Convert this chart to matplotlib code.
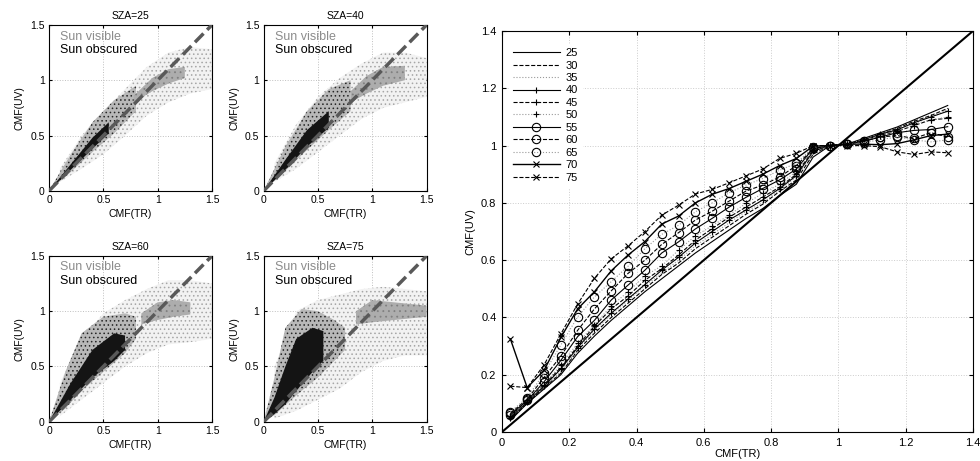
import matplotlib
matplotlib.use("Agg")
import matplotlib.pyplot as plt
import numpy as np

plt.rcParams['font.family'] = ['Liberation Sans', 'DejaVu Sans']
plt.rcParams['hatch.linewidth'] = 0.6

# ---- left: scatter clouds, summarised as envelopes ----
sza_panels = [25, 40, 60, 75]

# sun visible (gray), sparse outer cloud
vis_x = [[0.1, 0.3, 0.5, 0.7, 0.9, 1.1, 1.3, 1.5]] * 4
vis_lo = [[0.08, 0.20, 0.33, 0.50, 0.68, 0.80, 0.88, 0.92],
          [0.08, 0.20, 0.35, 0.50, 0.65, 0.75, 0.80, 0.85],
          [0.05, 0.20, 0.35, 0.50, 0.62, 0.70, 0.72, 0.75],
          [0.03, 0.10, 0.20, 0.30, 0.45, 0.55, 0.60, 0.60]]
vis_hi = [[0.20, 0.50, 0.72, 0.92, 1.12, 1.25, 1.30, 1.28],
          [0.25, 0.60, 0.85, 1.02, 1.15, 1.25, 1.25, 1.20],
          [0.35, 0.75, 0.98, 1.10, 1.20, 1.28, 1.28, 1.25],
          [0.50, 1.00, 1.10, 1.15, 1.20, 1.22, 1.20, 1.18]]

# sun visible, dense core near (1, 1)
vcore_x = [[0.78, 0.95, 1.10, 1.25],
           [0.80, 0.95, 1.10, 1.30],
           [0.85, 1.00, 1.15, 1.30],
           [0.85, 1.00, 1.20, 1.50]]
vcore_lo = [[0.80, 0.90, 0.97, 1.02],
            [0.80, 0.88, 0.95, 1.00],
            [0.88, 0.92, 0.95, 0.97],
            [0.88, 0.90, 0.92, 0.95]]
vcore_hi = [[0.86, 1.02, 1.10, 1.12],
            [0.90, 1.04, 1.12, 1.13],
            [0.98, 1.08, 1.10, 1.08],
            [1.00, 1.10, 1.08, 1.05]]

# sun obscured (black), sparse cloud
obs_x = [[0, 0.2, 0.4, 0.6, 0.8],
         [0, 0.2, 0.4, 0.6, 0.8],
         [0, 0.15, 0.3, 0.5, 0.7, 0.8],
         [0, 0.1, 0.2, 0.35, 0.5, 0.65, 0.75]]
obs_lo = [[0, 0.17, 0.35, 0.52, 0.72],
          [0, 0.18, 0.37, 0.55, 0.72],
          [0, 0.12, 0.28, 0.45, 0.62, 0.75],
          [0, 0.06, 0.15, 0.28, 0.40, 0.55, 0.65]]
obs_hi = [[0, 0.33, 0.62, 0.82, 0.95],
          [0, 0.40, 0.72, 0.92, 1.00],
          [0, 0.45, 0.80, 0.95, 0.98, 0.95],
          [0, 0.40, 0.85, 1.02, 1.00, 0.92, 0.85]]

# sun obscured, dense core
ocore_x = [[0, 0.2, 0.4, 0.55],
           [0, 0.2, 0.4, 0.6],
           [0, 0.2, 0.4, 0.6, 0.7],
           [0, 0.1, 0.2, 0.3, 0.45, 0.55]]
ocore_lo = [[0, 0.19, 0.38, 0.52],
            [0, 0.19, 0.40, 0.57],
            [0, 0.20, 0.40, 0.55, 0.65],
            [0, 0.07, 0.16, 0.28, 0.45, 0.55]]
ocore_hi = [[0, 0.24, 0.48, 0.62],
            [0, 0.28, 0.55, 0.72],
            [0, 0.35, 0.65, 0.80, 0.78],
            [0, 0.22, 0.50, 0.75, 0.85, 0.82]]

# ---- right: binned mean curves ----
cmf_tr = [0.025, 0.075, 0.125, 0.175, 0.225, 0.275, 0.325, 0.375, 0.425,
          0.475, 0.525, 0.575, 0.625, 0.675, 0.725, 0.775, 0.825, 0.875,
          0.925, 0.975, 1.025, 1.075, 1.125, 1.175, 1.225, 1.275, 1.325]
sza_curves = [25, 30, 35, 40, 45, 50, 55, 60, 65, 70, 75]
cmf_uv = [
    [0.040, 0.100, 0.150, 0.200, 0.275, 0.335, 0.390, 0.440, 0.490, 0.535, 0.580, 0.625, 0.665, 0.705,
     0.745, 0.780, 0.825, 0.865, 0.960, 1.000, 1.005, 1.025, 1.045, 1.065, 1.090, 1.115, 1.140],
    [0.045, 0.100, 0.155, 0.205, 0.285, 0.345, 0.400, 0.450, 0.500, 0.550, 0.590, 0.640, 0.680, 0.720,
     0.760, 0.795, 0.840, 0.880, 0.970, 1.000, 1.005, 1.020, 1.040, 1.060, 1.085, 1.105, 1.130],
    [0.050, 0.105, 0.160, 0.210, 0.290, 0.355, 0.410, 0.460, 0.510, 0.555, 0.600, 0.650, 0.690, 0.730,
     0.770, 0.800, 0.845, 0.890, 0.975, 1.000, 1.005, 1.020, 1.040, 1.055, 1.080, 1.100, 1.125],
    [0.050, 0.105, 0.160, 0.220, 0.295, 0.360, 0.415, 0.465, 0.515, 0.565, 0.610, 0.660, 0.700, 0.740,
     0.775, 0.810, 0.850, 0.895, 0.980, 1.000, 1.005, 1.020, 1.040, 1.055, 1.080, 1.100, 1.120],
    [0.055, 0.110, 0.165, 0.225, 0.300, 0.370, 0.430, 0.475, 0.530, 0.570, 0.618, 0.670, 0.710, 0.750,
     0.785, 0.820, 0.855, 0.900, 0.985, 1.000, 1.005, 1.020, 1.035, 1.050, 1.070, 1.090, 1.095],
    [0.055, 0.110, 0.165, 0.235, 0.310, 0.375, 0.440, 0.490, 0.545, 0.580, 0.635, 0.685, 0.720, 0.757,
     0.798, 0.833, 0.865, 0.910, 0.985, 1.000, 1.005, 1.020, 1.035, 1.050, 1.075, 1.090, 1.100],
    [0.060, 0.110, 0.175, 0.250, 0.333, 0.390, 0.461, 0.513, 0.565, 0.625, 0.664, 0.709, 0.746, 0.785,
     0.819, 0.850, 0.880, 0.918, 0.990, 1.000, 1.005, 1.015, 1.030, 1.045, 1.053, 1.056, 1.066],
    [0.065, 0.115, 0.190, 0.265, 0.355, 0.430, 0.493, 0.554, 0.600, 0.655, 0.696, 0.740, 0.771, 0.806,
     0.841, 0.862, 0.890, 0.930, 0.990, 1.000, 1.005, 1.015, 1.030, 1.035, 1.025, 1.045, 1.030],
    [0.070, 0.120, 0.205, 0.304, 0.402, 0.472, 0.525, 0.579, 0.640, 0.690, 0.722, 0.769, 0.800, 0.835,
     0.862, 0.885, 0.914, 0.938, 0.995, 1.000, 1.005, 1.010, 1.021, 1.030, 1.020, 1.013, 1.020],
    [0.325, 0.155, 0.215, 0.330, 0.430, 0.490, 0.563, 0.618, 0.665, 0.726, 0.754, 0.800, 0.830, 0.850,
     0.875, 0.900, 0.930, 0.955, 0.998, 1.000, 1.005, 1.005, 1.003, 1.007, 1.020, 1.035, 1.040],
    [0.160, 0.155, 0.234, 0.342, 0.447, 0.537, 0.605, 0.650, 0.700, 0.757, 0.792, 0.831, 0.847, 0.870,
     0.894, 0.918, 0.955, 0.973, 1.000, 1.000, 1.000, 1.000, 0.996, 0.978, 0.969, 0.978, 0.975],
]
line_styles = ['-', '--', ':', '-', '--', ':', '-', '--', ':', '-', '--']
line_markers = ['', '', '', '+', '+', '+', 'o', 'o', 'o', 'x', 'x']

fig = plt.figure(figsize=(9.8, 4.61), dpi=100)

positions = [(0.050, 0.586), (0.269, 0.586), (0.050, 0.085), (0.269, 0.085)]
for i, sza in enumerate(sza_panels):
    ax = fig.add_axes([positions[i][0], positions[i][1], 0.1663, 0.36])
    ax.fill_between(vis_x[i], vis_lo[i], vis_hi[i], facecolor='0.95', edgecolor='0.65',
                    hatch='....', linewidth=0, zorder=1)
    ax.fill_between(obs_x[i], obs_lo[i], obs_hi[i], facecolor='0.72', edgecolor='0.15',
                    hatch='....', linewidth=0, zorder=2)
    ax.fill_between(vcore_x[i], vcore_lo[i], vcore_hi[i], facecolor='0.68', edgecolor='0.5',
                    hatch='...', linewidth=0, zorder=3)
    ax.fill_between(ocore_x[i], ocore_lo[i], ocore_hi[i], facecolor='0.08', linewidth=0, zorder=4)
    ax.plot([0, 1.5], [0, 1.5], color='0.35', lw=2.5, dashes=(3.5, 1.5), zorder=5)
    ax.set_xlim(0, 1.5)
    ax.set_ylim(0, 1.5)
    ax.set_xticks([0, 0.5, 1, 1.5])
    ax.set_yticks([0, 0.5, 1, 1.5])
    ax.set_xticklabels(['0', '0.5', '1', '1.5'])
    ax.set_yticklabels(['0', '0.5', '1', '1.5'])
    ax.tick_params(direction='in', length=2.5, labelsize=7.5, top=True, right=True, pad=3)
    ax.grid(True, color='0.75', linestyle=':', linewidth=0.7)
    ax.set_axisbelow(True)
    ax.set_title(f'SZA={sza}', fontsize=7.5, pad=4)
    ax.set_xlabel('CMF(TR)', fontsize=7.5, labelpad=3)
    ax.set_ylabel('CMF(UV)', fontsize=7.5, labelpad=4)
    ax.text(0.07, 0.93, 'Sun visible', transform=ax.transAxes, color='0.55', fontsize=9,
            va='center', zorder=6)
    ax.text(0.07, 0.85, 'Sun obscured', transform=ax.transAxes, color='black', fontsize=9,
            va='center', zorder=6)
    for sp in ax.spines.values():
        sp.set_linewidth(0.8)

ax = fig.add_axes([0.5122, 0.0629, 0.4806, 0.8698])
ax.plot([0, 1.4], [0, 1.4], color='black', lw=1.5, zorder=1)
for k, sza in enumerate(sza_curves):
    col = '0.6' if line_styles[k] == ':' else 'black'
    lw = 1.0 if sza == 70 else 0.8
    ax.plot(cmf_tr, cmf_uv[k], linestyle=line_styles[k], marker=line_markers[k] or None,
            color=col, mec='black', mfc='none', ms=6 if line_markers[k] == 'o' else 5,
            mew=0.8, lw=lw, label=str(sza), zorder=2)
ax.set_xlim(0, 1.4)
ax.set_ylim(0, 1.4)
ticks = [0, 0.2, 0.4, 0.6, 0.8, 1, 1.2, 1.4]
tick_txt = ['0', '0.2', '0.4', '0.6', '0.8', '1', '1.2', '1.4']
ax.set_xticks(ticks)
ax.set_yticks(ticks)
ax.set_xticklabels(tick_txt)
ax.set_yticklabels(tick_txt)
ax.tick_params(direction='in', length=3, labelsize=8, top=True, right=True, pad=4)
ax.grid(True, color='0.8', linestyle=':', linewidth=0.7)
ax.set_axisbelow(True)
ax.set_xlabel('CMF(TR)', fontsize=8, labelpad=1)
ax.set_ylabel('CMF(UV)', fontsize=8, labelpad=4)
leg = ax.legend(loc='upper left', fontsize=8, frameon=True, handlelength=4.2,
                labelspacing=0.22, borderaxespad=0.6, handletextpad=0.5,
                bbox_to_anchor=(0.0, 0.985))
leg.get_frame().set_edgecolor('white')
leg.get_frame().set_facecolor('white')
leg.get_frame().set_alpha(1)
for sp in ax.spines.values():
    sp.set_linewidth(0.8)

fig.savefig('out.png', dpi=100)
